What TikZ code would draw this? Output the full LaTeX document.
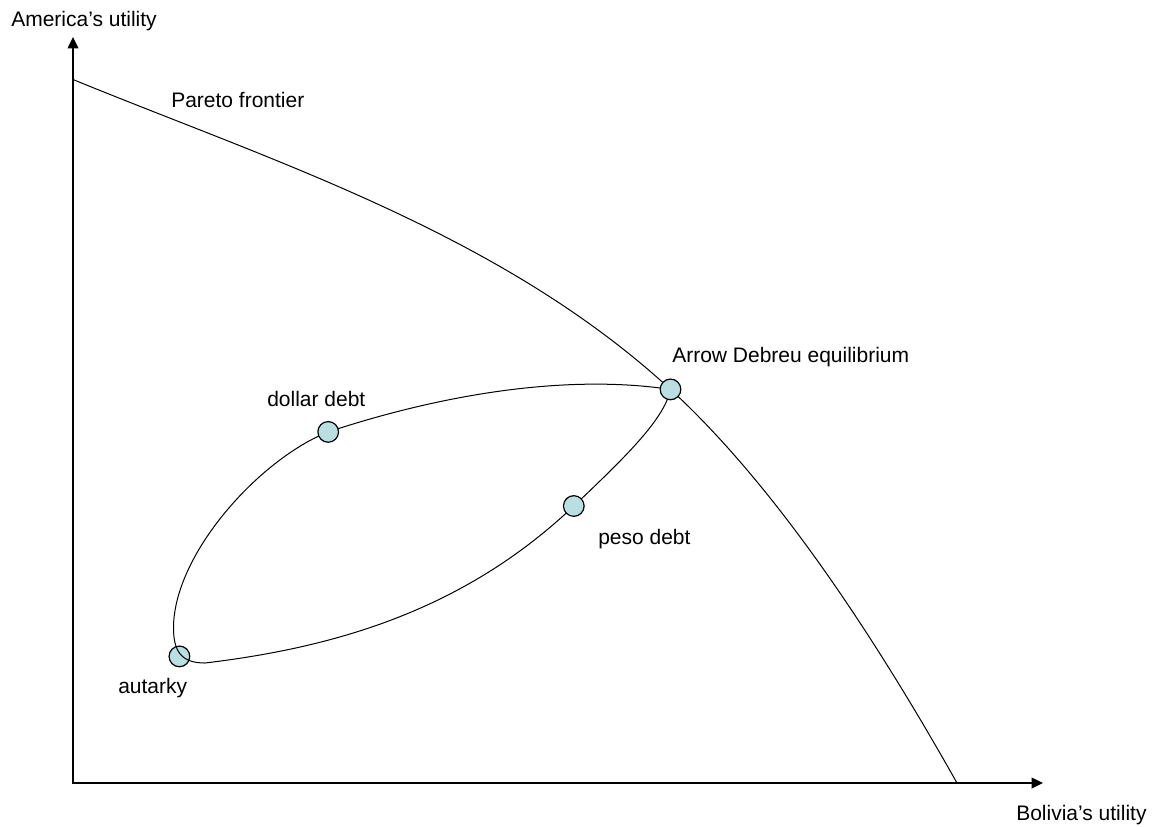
\documentclass[tikz,border=0pt]{standalone}
\usepackage{fontspec}
\setmainfont{Liberation Sans}
\usetikzlibrary{arrows.meta}
\pgfdeclarelayer{bottom}
\pgfdeclarelayer{curves}
\pgfsetlayers{bottom,curves,main}
\definecolor{dotfill}{RGB}{185,223,226}
\tikzset{
  dot/.style={circle, draw=black, line width=0.9pt, fill=dotfill, minimum size=15.5pt, inner sep=0pt},
  lbl/.style={anchor=base west, inner sep=0pt, font=\fontsize{15.75pt}{19pt}\selectfont},
  axis/.style={line width=1.1pt, {Triangle[length=8.5pt,width=8pt]}-{Triangle[length=8.5pt,width=8pt]}},
  curve/.style={line width=0.75pt},
}
\begin{document}
\begin{tikzpicture}[x=0.75pt,y=-0.75pt]
\useasboundingbox (0,0) rectangle (1159,826);
% axes
\coordinate (O) at (73,783);
\coordinate (ytip) at (73,37);
\coordinate (xtip) at (1043,783);
\draw[axis] (ytip) -- (O) -- (xtip);
% points
\node[dot] (AD) at (670.5,389.4) {};
\node[dot] (dollar) at (328.2,431.9) {};
\node[dot] (peso) at (573.8,506) {};
\begin{pgfonlayer}{bottom}
\node[dot] (aut) at (179.4,656.4) {};
\end{pgfonlayer}
\coordinate (P0) at (73,79.5);
\coordinate (P1) at (957,783);
\coordinate (L) at (173.5,628);
\coordinate (B) at (205,663);
\begin{pgfonlayer}{curves}
% Pareto frontier
\draw[curve] (P0) .. controls (273,161.5) and (500.5,233) .. (AD.center)
  .. controls (770.5,481.4) and (867,623.25) .. (P1);
% loop
\draw[curve] (AD.center) .. controls (570.5,374.4) and (448.2,392.3) .. (dollar.center)
  .. controls (258.2,459.9) and (173.5,555) .. (L)
  .. controls (173.5,652) and (182,663) .. (B)
  .. controls (335,647.4) and (463.8,610.5) .. (peso.center)
  .. controls (623.8,458.5) and (664.5,419.4) .. (AD.center);
\end{pgfonlayer}
% labels
\node[lbl] (ylab) at (11,26) {America’s utility};
\node[lbl] (xlab) at (1016,820) {Bolivia’s utility};
\node[lbl] (pf) at (171,107) {Pareto frontier};
\node[lbl] (adl) at (672,362.5) {Arrow Debreu equilibrium};
\node[lbl] (dl) at (267,406) {dollar debt};
\node[lbl] (pl) at (598,544) {peso debt};
\node[lbl] (al) at (118,693) {autarky};
\end{tikzpicture}
\end{document}
